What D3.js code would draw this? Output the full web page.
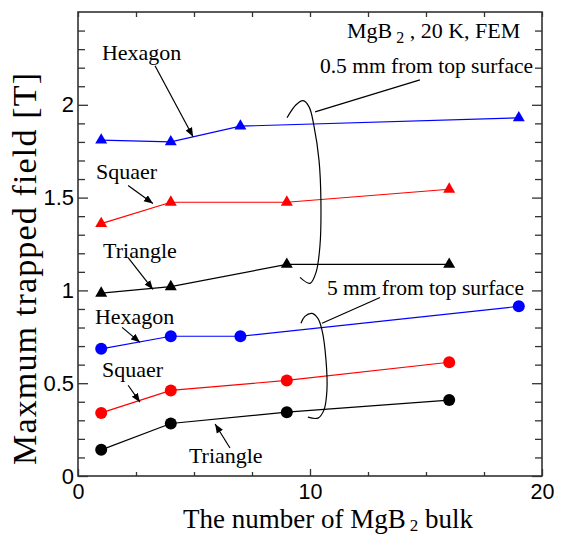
<!DOCTYPE html>
<html><head><meta charset="utf-8">
<script src="https://cdn.jsdelivr.net/npm/d3@7"></script>
<style>body{margin:0;background:#fff}svg{display:block}</style>
</head><body><svg id="c" width="563" height="535"></svg>
<script>
// ---- data ----
const xHex = [1, 4, 7, 19];
const xOther = [1, 4, 9, 16];
const hexTop = [1.81, 1.80, 1.885, 1.93];
const sqTop = [1.36, 1.475, 1.475, 1.545];
const triTop = [0.985, 1.02, 1.14, 1.14];
const hexBot = [0.685, 0.753, 0.753, 0.914];
const sqBot = [0.34, 0.461, 0.515, 0.613];
const triBot = [0.141, 0.283, 0.344, 0.409];
const xTickLabels = [0, 10, 20];
const xMinorTicks = [2.5, 5, 7.5, 12.5, 15, 17.5];
const yTickLabels = [0, 0.5, 1, 1.5, 2];
const yMinorTicks = d3.range(0, 25).map(i => i / 10).filter(v => Math.abs(v * 2 - Math.round(v * 2)) > 1e-6);

const series = [
  {xs: xHex, ys: hexTop, color: "#0000ff", shape: "tri"},
  {xs: xOther, ys: sqTop, color: "#ff0000", shape: "tri"},
  {xs: xOther, ys: triTop, color: "#000000", shape: "tri"},
  {xs: xHex, ys: hexBot, color: "#0000ff", shape: "circ"},
  {xs: xOther, ys: sqBot, color: "#ff0000", shape: "circ"},
  {xs: xOther, ys: triBot, color: "#000000", shape: "circ"}
];

// labels with arrows (data coords)
const labelTexts = ["Hexagon", "Squaer", "Triangle", "Hexagon", "Squaer", "Triangle"];
const labelPos = [[1.03, 2.242], [0.78, 1.602], [1.08, 1.177], [0.73, 0.817], [1.03, 0.532], [4.78, 0.070]];
const arrowLines = [[3.32, 2.21, 4.96, 1.828], [2.16, 1.565, 3.23, 1.468], [2.16, 1.177, 3.23, 1.005],
  [1.90, 0.801, 2.67, 0.720], [2.16, 0.489, 2.67, 0.398], [6.55, 0.151, 5.91, 0.280]];

const bracketTop = [[9.01, 1.93], [9.40, 2.00], [9.70, 2.022], [9.96, 1.989], [10.17, 1.887], [10.39, 1.699],
  [10.47, 1.484], [10.43, 1.242], [10.26, 1.097], [10.0, 1.038], [9.57, 1.07]];
const bracketBot = [[9.61, 0.823], [9.78, 0.86], [10.09, 0.876], [10.34, 0.849], [10.52, 0.785], [10.69, 0.624],
  [10.73, 0.462], [10.60, 0.355], [10.34, 0.312], [9.91, 0.317]];
const leaderLines = [[10.22, 1.962, 14.74, 2.134], [10.52, 0.823, 13.02, 0.962]];

// ---- layout ----
const W = 563, H = 535;
const m = {left: 78, top: 12, right: 21, bottom: 59};
const svg = d3.select("#c");
const x = d3.scaleLinear().domain([0, 20]).range([m.left, W - m.right]);
const y = d3.scaleLinear().domain([0, 2.5]).range([H - m.bottom, m.top]);
const serif = "'Liberation Serif','Times New Roman',serif";
const sans = "'Liberation Sans',Arial,sans-serif";
const axisColor = "#333";

// frame
svg.append("rect").attr("x", x(0)).attr("y", y(2.5)).attr("width", x(20) - x(0)).attr("height", y(0) - y(2.5))
  .attr("fill", "none").attr("stroke", axisColor).attr("stroke-width", 1.6);

function styleAxis(size) {
  return g => {
    g.select(".domain").remove();
    g.selectAll(".tick line").attr("stroke", axisColor).attr("stroke-width", 1.3);
    g.selectAll("text").attr("font-family", sans).attr("font-size", size).attr("fill", "#000");
  };
}
// y axes
svg.append("g").attr("transform", `translate(${x(0)},0)`)
  .call(d3.axisLeft(y).tickValues(yTickLabels).tickSize(-10).tickPadding(4).tickFormat(d3.format("")))
  .call(styleAxis(22));
svg.append("g").attr("transform", `translate(${x(0)},0)`)
  .call(d3.axisLeft(y).tickValues(yMinorTicks).tickSize(-7).tickFormat(""))
  .call(styleAxis(22));
svg.append("g").attr("transform", `translate(${x(20)},0)`)
  .call(d3.axisRight(y).tickValues(yTickLabels).tickSize(-10).tickFormat(""))
  .call(styleAxis(22));
svg.append("g").attr("transform", `translate(${x(20)},0)`)
  .call(d3.axisRight(y).tickValues(yMinorTicks).tickSize(-7).tickFormat(""))
  .call(styleAxis(22));
// x axes
svg.append("g").attr("transform", `translate(0,${y(0)})`)
  .call(d3.axisBottom(x).tickValues(xTickLabels).tickSize(-7).tickPadding(8).tickFormat(d3.format("")))
  .call(styleAxis(21.5));
svg.append("g").attr("transform", `translate(0,${y(0)})`)
  .call(d3.axisBottom(x).tickValues(xMinorTicks).tickSize(-4).tickFormat(""))
  .call(styleAxis(21.5));
svg.append("g").attr("transform", `translate(0,${y(2.5)})`)
  .call(d3.axisTop(x).tickValues(xTickLabels.concat(xMinorTicks)).tickSize(-5).tickFormat(""))
  .call(styleAxis(21.5));

// series
const line = d3.line().x(d => x(d[0])).y(d => y(d[1]));
series.forEach(s => {
  const pts = s.xs.map((v, i) => [v, s.ys[i]]);
  svg.append("path").attr("d", line(pts)).attr("fill", "none").attr("stroke", s.color).attr("stroke-width", 1.2);
  if (s.shape === "tri") {
    svg.append("g").selectAll("path").data(pts).join("path")
      .attr("transform", d => `translate(${x(d[0])},${y(d[1])})`)
      .attr("d", d3.symbol(d3.symbolTriangle, 62)).attr("fill", s.color);
  } else {
    svg.append("g").selectAll("circle").data(pts).join("circle")
      .attr("cx", d => x(d[0])).attr("cy", d => y(d[1])).attr("r", 6).attr("fill", s.color);
  }
});

// arrow marker
svg.append("defs").append("marker").attr("id", "ah").attr("viewBox", "0 0 10 10")
  .attr("refX", 10).attr("refY", 5).attr("markerWidth", 9).attr("markerHeight", 9)
  .attr("markerUnits", "userSpaceOnUse").attr("orient", "auto")
  .append("path").attr("d", "M0,1 L10,5 L0,9 Z").attr("fill", "#000");

labelTexts.forEach((t, i) => {
  svg.append("text").attr("x", x(labelPos[i][0])).attr("y", y(labelPos[i][1]))
    .attr("font-family", serif).attr("font-size", 22).text(t);
  const a = arrowLines[i];
  svg.append("line").attr("x1", x(a[0])).attr("y1", y(a[1])).attr("x2", x(a[2])).attr("y2", y(a[3]))
    .attr("stroke", "#000").attr("stroke-width", 1.2).attr("marker-end", "url(#ah)");
});

// brackets
const bl = d3.line().x(d => x(d[0])).y(d => y(d[1])).curve(d3.curveCatmullRom);
[bracketTop, bracketBot].forEach(b => {
  svg.append("path").attr("d", bl(b)).attr("fill", "none").attr("stroke", "#000").attr("stroke-width", 1.2);
});
leaderLines.forEach(a => {
  svg.append("line").attr("x1", x(a[0])).attr("y1", y(a[1])).attr("x2", x(a[2])).attr("y2", y(a[3]))
    .attr("stroke", "#000").attr("stroke-width", 1.2);
});

// annotation texts
const t1 = svg.append("text").attr("x", x(11.59)).attr("y", y(2.36)).attr("font-family", serif).attr("font-size", 22);
t1.append("tspan").text("MgB");
t1.append("tspan").attr("dx", 4).attr("dy", 5).attr("font-size", 16).text("2");
t1.append("tspan").attr("dy", -5).text(" , 20 K, FEM");
svg.append("text").attr("x", x(10.43)).attr("y", y(2.172)).attr("font-family", serif).attr("font-size", 21.5)
  .text("0.5 mm from top surface");
svg.append("text").attr("x", x(10.73)).attr("y", y(0.973)).attr("font-family", serif).attr("font-size", 21.5)
  .text("5 mm from top surface");

// axis titles
const xt = svg.append("text").attr("x", 328).attr("y", 528).attr("text-anchor", "middle")
  .attr("font-family", serif).attr("font-size", 27);
xt.append("tspan").text("The number of MgB");
xt.append("tspan").attr("dx", 4).attr("dy", 3).attr("font-size", 17).text("2");
xt.append("tspan").attr("dy", -3).text(" bulk");
svg.append("text").attr("transform", "translate(36,269) rotate(-90)").attr("text-anchor", "middle")
  .attr("font-family", serif).attr("font-size", 34)
  .attr("textLength", 392).attr("lengthAdjust", "spacing")
  .text("Maxmum trapped field [T]");
</script></body></html>
